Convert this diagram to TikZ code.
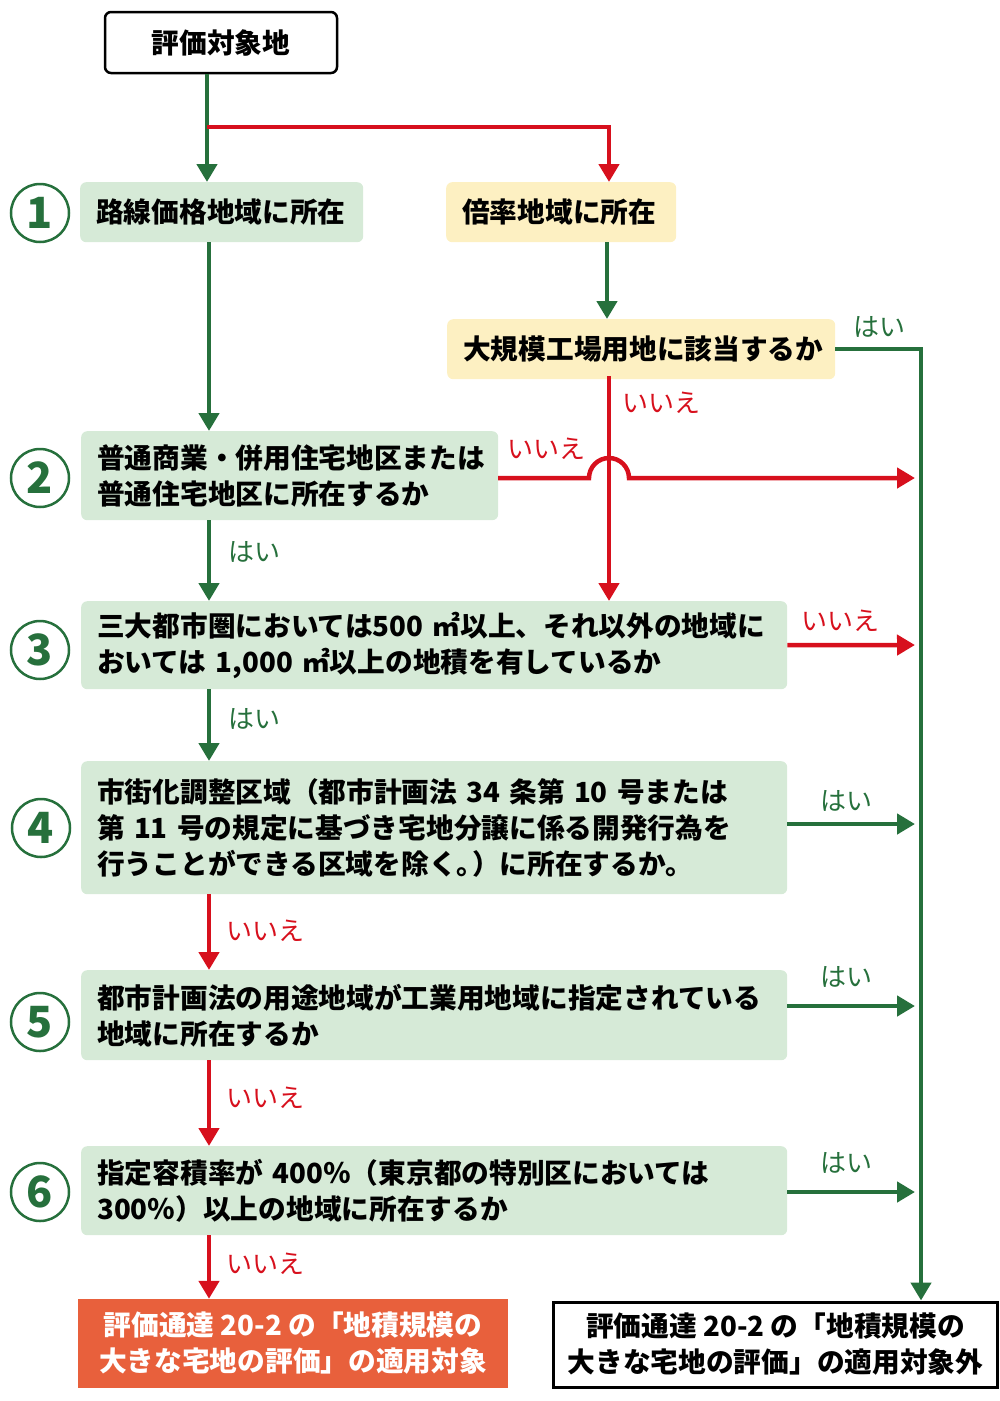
\documentclass[tikz,border=0pt]{standalone}
\usepackage{fontspec}
\setmainfont{Noto Sans CJK JP}
\usetikzlibrary{arrows.meta}
\definecolor{gline}{RGB}{38,112,60}
\definecolor{rline}{RGB}{215,16,29}
\definecolor{gfill}{RGB}{214,234,215}
\definecolor{yfill}{RGB}{253,240,194}
\definecolor{ofill}{RGB}{232,96,60}
\tikzset{
  gconn/.style={draw=gline, line width=4.5pt, -{Triangle[length=18pt,width=20pt]}},
  rconn/.style={draw=rline, line width=4.5pt, -{Triangle[length=18pt,width=20pt]}},
  boxtext/.style={font=\bfseries\fontsize{27.7pt}{36pt}\selectfont},
  gbox/.style={boxtext, fill=gfill, rounded corners=6pt, anchor=north west, inner xsep=16pt, inner ysep=0pt, align=left},
  ybox/.style={gbox, fill=yfill},
  num/.style={circle, draw=gline, line width=2.5pt, minimum size=58pt, inner sep=0pt, text=gline, font=\bfseries\fontsize{43pt}{43pt}\selectfont},
  glbl/.style={text=gline, font=\fontsize{26pt}{26pt}\selectfont, inner sep=0pt},
  rlbl/.style={glbl, text=rline},
}
\begin{document}
\begin{tikzpicture}[x=1pt,y=-1pt]
\useasboundingbox (0,0) rectangle (1000,1401);
% nodes
\node[boxtext, draw=black, line width=2.5pt, rounded corners=6pt, minimum width=232pt, minimum height=61pt, inner sep=0pt] (top) at (221,42.5) {評価対象地};
\node[gbox, text width=251pt, minimum height=60pt] (b1) at (80,182) {路線価格地域に所在};
\node[ybox, text width=198pt, minimum height=60pt] (by) at (446,182) {倍率地域に所在};
\node[ybox, text width=356pt, minimum height=60pt] (b7) at (447,319) {大規模工場用地に該当するか};
\node[gbox, text width=385pt, minimum height=89pt] (b2) at (81,431) {普通商業・併用住宅地区または\\普通住宅地区に所在するか};
\node[gbox, text width=674pt, minimum height=88pt] (b3) at (81,601) {三大都市圏においては500 ㎡以上、それ以外の地域に\\おいては 1,000 ㎡以上の地積を有しているか};
\node[gbox, text width=674pt, minimum height=133pt] (b4) at (81,761) {市街化調整区域（都市計画法 34 条第 10 号または\\第 11 号の規定に基づき宅地分譲に係る開発行為を\\行うことができる区域を除く。\kern-0.45em）に所在するか。};
\node[gbox, text width=674pt, minimum height=90pt] (b5) at (81,970) {都市計画法の用途地域が工業用地域に指定されている\\地域に所在するか};
\node[gbox, text width=674pt, minimum height=89pt] (b6) at (81,1146) {指定容積率が 400％（東京都の特別区においては\\300％）以上の地域に所在するか};
\node[boxtext, fill=ofill, text=white, align=center, minimum width=430pt, minimum height=89pt, inner sep=0pt] (outA) at (293,1343.5) {評価通達 20-2 の「地積規模の\\大きな宅地の評価」の適用対象};
\node[boxtext, draw=black, line width=3pt, fill=white, align=center, minimum width=444pt, minimum height=85pt, inner sep=0pt] (outB) at (775.5,1344.5) {評価通達 20-2 の「地積規模の\\大きな宅地の評価」の適用対象外};
% circled numbers
\node[num] (n1) at (40,213) {1};
\node[num] (n2) at (40,478) {2};
\node[num] (n3) at (40,650) {3};
\node[num] (n4) at (41,828) {4};
\node[num] (n5) at (40,1022) {5};
\node[num] (n6) at (40,1192) {6};
% helper coordinates
\coordinate (xA) at (207,0);
\coordinate (xL) at (209,0);
\coordinate (xB) at (609,0);
\coordinate (xC) at (607,0);
\coordinate (xR) at (921,0);
\coordinate (jr) at (207,127);
\coordinate (h1) at (589,478);
\coordinate (h2) at (629,478);
\coordinate (t2) at (915,478);
\coordinate (t3) at (915,645);
\coordinate (t4) at (915,824);
\coordinate (t5) at (915,1006);
\coordinate (t6) at (915,1192);
\coordinate (s5) at (787,1006);
\coordinate (s2) at (498,478);
% connectors
\draw[gconn] (top.south -| xA) -- (b1.north -| xA);
\draw[rconn] (jr) -| (by.north -| xB);
\draw[gconn] (by.south -| xC) -- (b7.north -| xC);
\draw[gconn] (b7.east) -| (outB.north -| xR);
\draw[rconn] ([yshift=3pt]b7.south -| xB) -- (b3.north -| xB);
\draw[rconn] (s2) -- (h1) .. controls (589,467) and (598,458) .. (609,458) .. controls (620,458) and (629,467) .. (h2) -- (t2);
\draw[gconn] (b1.south -| xL) -- (b2.north -| xL);
\draw[gconn] (b2.south -| xL) -- (b3.north -| xL);
\draw[rconn] (b3.east) -- (t3);
\draw[gconn] (b3.south -| xL) -- (b4.north -| xL);
\draw[gconn] (b4.east |- t4) -- (t4);
\draw[rconn] (b4.south -| xL) -- (b5.north -| xL);
\draw[gconn] (s5) -- (t5);
\draw[rconn] (b5.south -| xL) -- (b6.north -| xL);
\draw[gconn] (b6.east |- t6) -- (t6);
\draw[rconn] (b6.south -| xL) -- (outA.north -| xL);
% labels
\node[glbl] (l7y) at (879,327) {はい};
\node[rlbl] (l7n) at (661,403) {いいえ};
\node[rlbl] (l2n) at (546,449) {いいえ};
\node[glbl] (l2y) at (254,552) {はい};
\node[rlbl] (l3n) at (840,621) {いいえ};
\node[glbl] (l3y) at (254,719) {はい};
\node[glbl] (l4y) at (846,801) {はい};
\node[rlbl] (l4n) at (265,931) {いいえ};
\node[glbl] (l5y) at (846,977) {はい};
\node[rlbl] (l5n) at (265,1098) {いいえ};
\node[glbl] (l6y) at (846,1163) {はい};
\node[rlbl] (l6n) at (265,1264) {いいえ};
\end{tikzpicture}
\end{document}
